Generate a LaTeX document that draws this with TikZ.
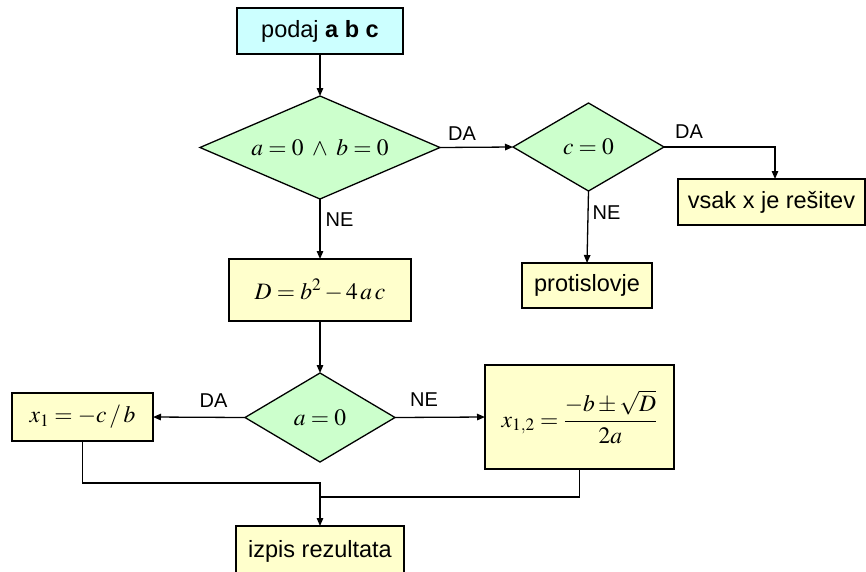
\documentclass[tikz,border=0pt]{standalone}
\usepackage{mathptmx}
\usepackage[no-math]{fontspec}
\setmainfont{Liberation Sans}
\usetikzlibrary{shapes.geometric,arrows.meta}

\definecolor{startfill}{RGB}{204,255,255}
\definecolor{testfill}{RGB}{204,255,204}
\definecolor{stepfill}{RGB}{255,255,204}

\begin{document}
\begin{tikzpicture}[x=1pt,y=-1pt,
  every node/.style={font=\fontsize{23.5}{28}\selectfont, inner sep=0pt, outer sep=0pt},
  stepbox/.style={draw=black, line width=1.3pt, fill=stepfill},
  startbox/.style={draw=black, line width=1.3pt, fill=startfill},
  test/.style={diamond, draw=black, line width=1.3pt, fill=testfill},
  lbl/.style={font=\fontsize{20}{24}\selectfont},
  line/.style={draw=black, line width=1.3pt},
  arr/.style={line, -{Triangle[length=8pt,width=6.5pt]}}]

\useasboundingbox (0,0) rectangle (866,571);

% process steps and decisions
\node[startbox, minimum width=166pt, minimum height=46pt] (start) at (320,31) {podaj \textbf{a b c}};
\node[test, aspect=2.33, minimum width=240pt, minimum height=103pt] (d1) at (320,147.5) {$a=0\;\wedge\;b=0$};
\node[test, aspect=1.72, minimum width=151pt, minimum height=88pt] (d2) at (588.5,147) {$c=0$};
\node[stepbox, minimum width=187pt, minimum height=46pt] (vsak) at (771.5,202) {vsak x je rešitev};
\node[stepbox, minimum width=130pt, minimum height=45pt] (prot) at (587,285.5) {protislovje};
\node[stepbox, minimum width=182pt, minimum height=62pt] (disc) at (320,290) {$D=b^2-4\,a\,c$};
\node[test, aspect=1.69, minimum width=150pt, minimum height=89pt] (d3) at (320,417.5) {$a=0$};
\node[stepbox, minimum width=141pt, minimum height=48pt] (x1) at (82.5,417) {$x_1=-c\,/\,b$};
\node[stepbox, minimum width=189pt, minimum height=104pt] (x12) at (579.5,417) {$x_{1,2}=\displaystyle\frac{-b\pm\sqrt{D}}{2a}$};
\node[stepbox, minimum width=168pt, minimum height=50pt] (izpis) at (320,551) {izpis rezultata};

% branch labels
\node[lbl] (da1) at (462,134) {DA};
\node[lbl] (ne1) at (339.5,219.5) {NE};
\node[lbl] (da2) at (689,132) {DA};
\node[lbl] (ne2) at (606.5,212.5) {NE};
\node[lbl] (da3) at (213.5,401) {DA};
\node[lbl] (ne3) at (424,400) {NE};

% junctions above the output step
\coordinate (m1) at (320,483);
\coordinate (m2) at (320,497);

% connectors
\draw[arr] (start.south) -- (d1.north);
\draw[arr] (d1.east) -- (d2.west);
\draw[arr] (d2.east) -| ([xshift=3.5pt]vsak.north);
\draw[arr] (d2.south) -- (prot.north);
\draw[arr] (d1.south) -- (disc.north);
\draw[arr] (disc.south) -- (d3.north);
\draw[arr] (d3.west) -- (x1.east);
\draw[arr] (d3.east) -- (x12.west);
\draw[arr] (x1.south) |- (m1) -- (izpis.north);
\draw[line] (x12.south) |- (m2);

\end{tikzpicture}
\end{document}
